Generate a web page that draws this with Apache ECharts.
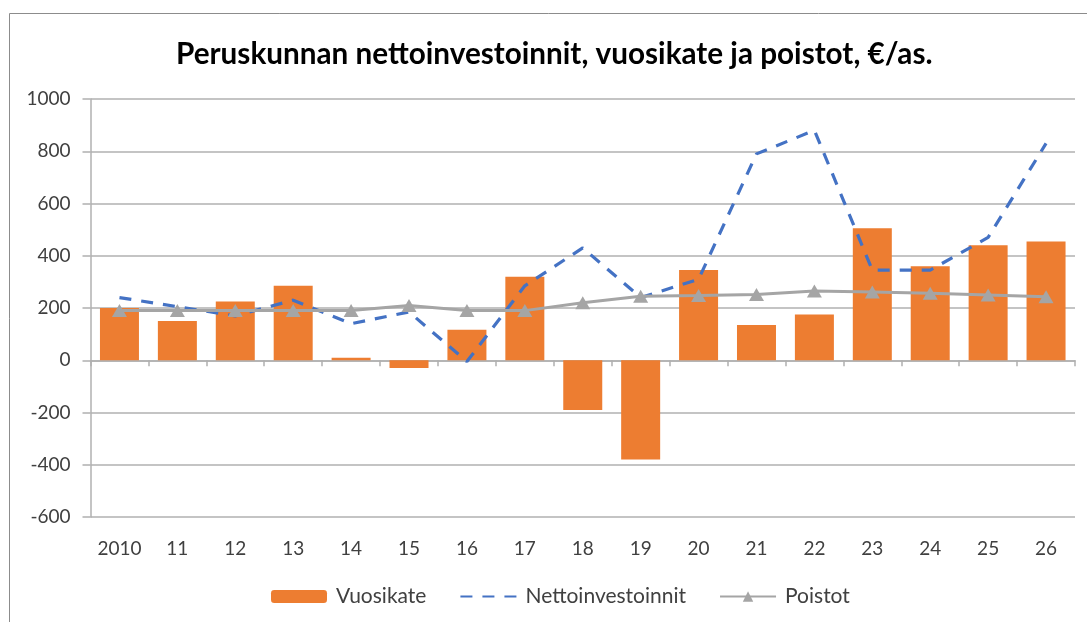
<!DOCTYPE html>
<html>
<head>
<meta charset="utf-8">
<script src="https://cdn.jsdelivr.net/npm/echarts@6/dist/echarts.min.js"></script>
<style>
  html, body { margin: 0; padding: 0; background: #fff; }
  #chart { width: 1087px; height: 622px; }
</style>
</head>
<body>
<div id="chart"></div>
<script>
// vuodet (2010-2026)
var years = ['2010', '11', '12', '13', '14', '15', '16', '17', '18', '19', '20', '21', '22', '23', '24', '25', '26'];
var vuosikate = [200, 150, 225, 285, 10, -30, 117, 320, -190, -380, 345, 135, 175, 505, 360, 440, 455];
var nettoinvestoinnit = [240, 205, 170, 230, 140, 185, -5, 285, 430, 240, 310, 790, 880, 345, 345, 470, 830];
var poistot = [190, 190, 190, 190, 190, 210, 190, 190, 220, 245, 248, 252, 265, 261, 256, 250, 243];

var font = 'Lato, "Open Sans", sans-serif';
var gridColor = '#b0b0b0';
var textColor = '#404040';

var option = {
    animation: false,
    backgroundColor: '#fff',
    graphic: [{
        type: 'rect',
        z: -10,
        shape: { x: 9.5, y: 13.5, width: 1100, height: 700 },
        style: { fill: 'none', stroke: '#8c8c8c', lineWidth: 1 }
    }],
    title: {
        text: 'Peruskunnan nettoinvestoinnit, vuosikate ja poistot, €/as.',
        left: 176,
        top: 39,
        padding: 0,
        textStyle: { fontFamily: font, fontSize: 29.7, fontWeight: 'bold', color: '#000' }
    },
    legend: {
        left: 266,
        top: 581,
        itemWidth: 56,
        itemHeight: 13,
        itemGap: 33,
        textStyle: { fontFamily: font, fontSize: 21, color: textColor, padding: [0, 0, 0, 4] },
        data: [
            'Vuosikate',
            { name: 'Nettoinvestoinnit', itemStyle: { color: 'rgba(0,0,0,0)', borderWidth: 0 } },
            'Poistot'
        ]
    },
    grid: { left: 90.5, right: 12, top: 99, bottom: 105 },
    xAxis: [{
        type: 'category',
        data: years,
        position: 'bottom',
        axisLine: { show: false, onZero: false },
        axisTick: { show: false },
        axisLabel: { fontFamily: font, fontSize: 19, color: textColor, margin: 22 }
    }, {
        type: 'category',
        data: years,
        position: 'bottom',
        axisLine: { show: true, onZero: true, lineStyle: { color: gridColor, width: 1.5 } },
        axisTick: { show: true, length: 6, lineStyle: { color: gridColor, width: 1.5 } },
        axisLabel: { show: false }
    }],
    yAxis: {
        type: 'value',
        min: -600,
        max: 1000,
        interval: 200,
        axisLine: { show: true, lineStyle: { color: gridColor, width: 1.5 } },
        axisTick: { show: true, length: 8, lineStyle: { color: gridColor, width: 1.5 } },
        axisLabel: {
            fontFamily: font, fontSize: 19, color: textColor, margin: 20,
            formatter: function (v) { return String(v); }
        },
        splitLine: { lineStyle: { color: gridColor, width: 1.5 } }
    },
    series: [{
        name: 'Vuosikate',
        type: 'bar',
        barWidth: 39,
        itemStyle: { color: '#ED7D31' },
        data: vuosikate
    }, {
        name: 'Nettoinvestoinnit',
        type: 'line',
        symbol: 'none',
        lineStyle: { color: '#4472C4', width: 3.2, type: [12, 10] },
        itemStyle: { color: '#4472C4' },
        data: nettoinvestoinnit
    }, {
        name: 'Poistot',
        type: 'line',
        symbol: 'triangle',
        symbolSize: [15, 13],
        lineStyle: { color: '#A5A5A5', width: 3 },
        itemStyle: { color: '#A5A5A5' },
        data: poistot
    }]
};

var myChart = echarts.init(document.getElementById('chart'));
myChart.setOption(option);
</script>
</body>
</html>
